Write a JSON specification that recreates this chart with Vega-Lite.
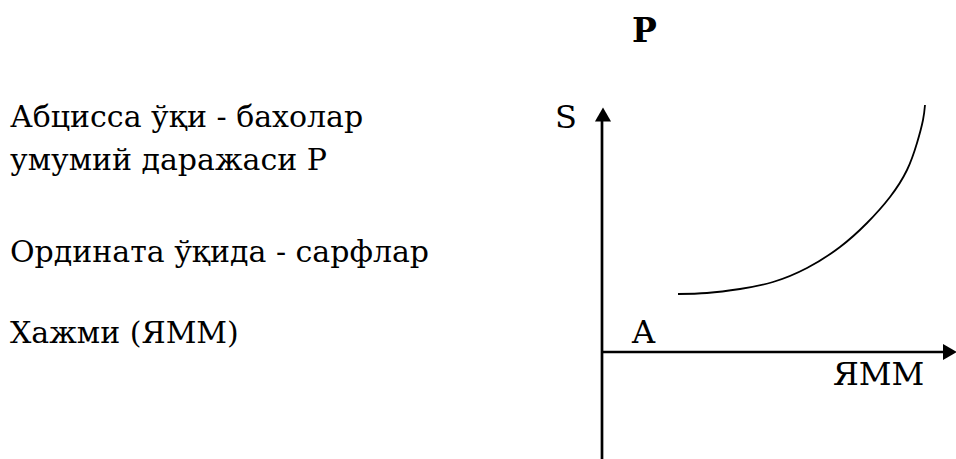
{
  "$schema": "https://vega.github.io/schema/vega-lite/v6.json",
  "width": 956,
  "height": 459,
  "autosize": {"type": "none"},
  "padding": 0,
  "background": "white",
  "config": {"view": {"stroke": null}},
  "datasets": {
    "curve": [
      {"x": 76, "y": 58}, {"x": 105, "y": 59}, {"x": 138, "y": 63}, {"x": 171, "y": 70},
      {"x": 205, "y": 84}, {"x": 238, "y": 105}, {"x": 265, "y": 129}, {"x": 288, "y": 155},
      {"x": 305, "y": 182}, {"x": 315, "y": 209}, {"x": 321, "y": 232}, {"x": 323, "y": 247}
    ],
    "axes": [
      {"name": "S", "x": 0, "x2": 0, "y": -110, "y2": 236},
      {"name": "ЯММ", "x": 0, "x2": 346, "y": 0, "y2": 0}
    ],
    "arrows": [
      {"name": "S", "x": 1, "y": 237.5, "dir": "up"},
      {"name": "ЯММ", "x": 348, "y": 0, "dir": "right"}
    ],
    "labels": [
      {"text": "Абцисса  ўқи - бахолар", "x": -592, "y": 225},
      {"text": "умумий даражаси Р", "x": -592, "y": 182},
      {"text": "Ордината ўқида - сарфлар", "x": -592, "y": 90},
      {"text": "Хажми (ЯММ)", "x": -592, "y": 9}
    ],
    "marks": [
      {"text": "S", "x": -47, "y": 224},
      {"text": "A", "x": 30, "y": 9},
      {"text": "ЯММ", "x": 231, "y": -33}
    ],
    "title": [
      {"text": "P", "x": 30, "y": 310}
    ]
  },
  "layer": [
    {
      "data": {"name": "axes"},
      "mark": {"type": "rule", "strokeWidth": 2.7, "color": "black"},
      "encoding": {
        "x": {"field": "x", "type": "quantitative", "scale": {"domain": [-602, 354], "nice": false, "zero": false}, "axis": null},
        "x2": {"field": "x2"},
        "y": {"field": "y", "type": "quantitative", "scale": {"domain": [-107, 352], "nice": false, "zero": false}, "axis": null},
        "y2": {"field": "y2"}
      }
    },
    {
      "data": {"name": "curve"},
      "mark": {"type": "line", "strokeWidth": 1.8, "color": "black", "interpolate": "natural"},
      "encoding": {
        "x": {"field": "x", "type": "quantitative"},
        "y": {"field": "y", "type": "quantitative"},
        "order": {"field": "x", "type": "quantitative"}
      }
    },
    {
      "data": {"name": "arrows"},
      "mark": {"type": "point", "filled": true, "color": "black", "opacity": 1, "size": 260},
      "encoding": {
        "x": {"field": "x", "type": "quantitative"},
        "y": {"field": "y", "type": "quantitative"},
        "shape": {
          "field": "dir", "type": "nominal",
          "scale": {"domain": ["up", "right"], "range": ["triangle-up", "triangle-right"]},
          "legend": null
        }
      }
    },
    {
      "data": {"name": "labels"},
      "mark": {"type": "text", "align": "left", "baseline": "alphabetic", "font": "DejaVu Serif", "fontSize": 30, "color": "black"},
      "encoding": {
        "x": {"field": "x", "type": "quantitative"},
        "y": {"field": "y", "type": "quantitative"},
        "text": {"field": "text"}
      }
    },
    {
      "data": {"name": "marks"},
      "mark": {"type": "text", "align": "left", "baseline": "alphabetic", "font": "DejaVu Serif", "fontSize": 32, "color": "black"},
      "encoding": {
        "x": {"field": "x", "type": "quantitative"},
        "y": {"field": "y", "type": "quantitative"},
        "text": {"field": "text"}
      }
    },
    {
      "data": {"name": "title"},
      "mark": {"type": "text", "align": "left", "baseline": "alphabetic", "font": "DejaVu Serif", "fontSize": 33, "fontWeight": "bold", "color": "black"},
      "encoding": {
        "x": {"field": "x", "type": "quantitative"},
        "y": {"field": "y", "type": "quantitative"},
        "text": {"field": "text"}
      }
    }
  ]
}
